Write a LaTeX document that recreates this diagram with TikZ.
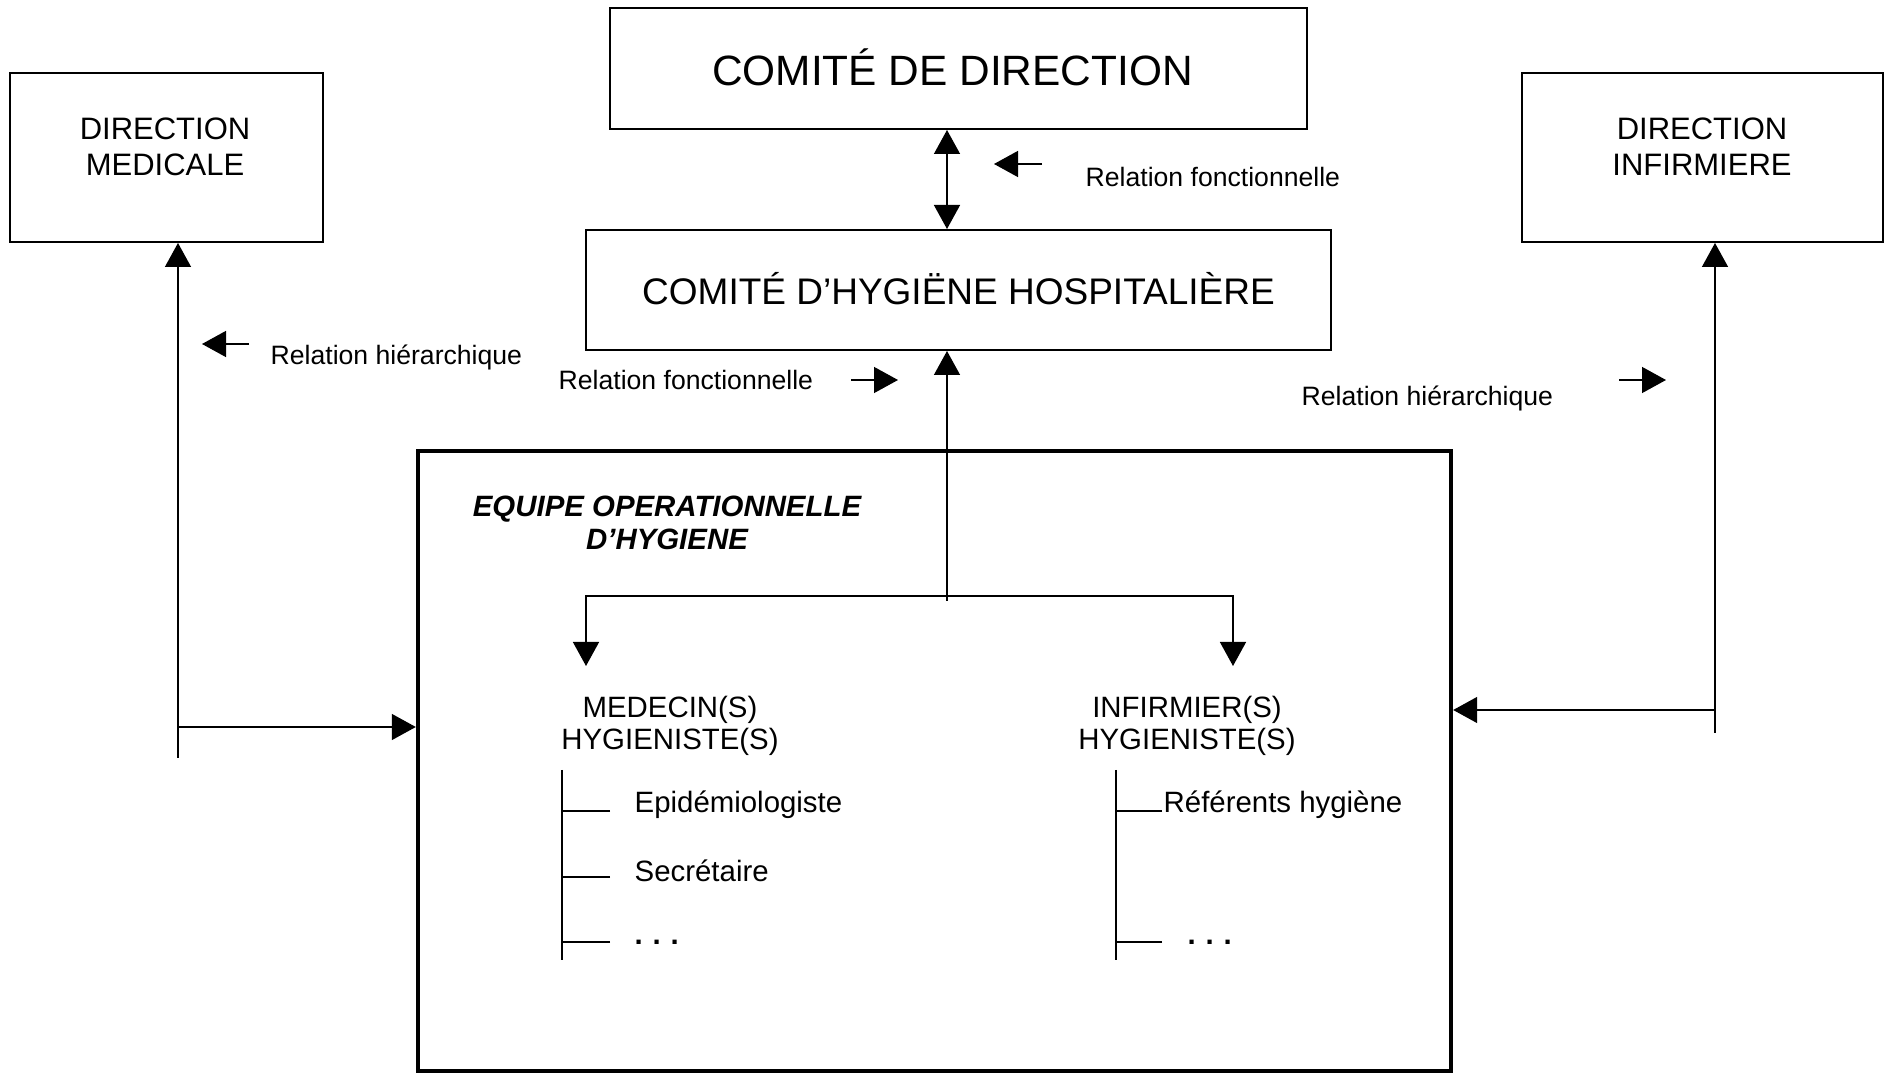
\documentclass[tikz,border=0pt]{standalone}
\usepackage{fontspec}
\setmainfont{Liberation Sans}
\usetikzlibrary{positioning,fit,arrows.meta}
\tikzset{
  box/.style={draw, line width=1pt, rectangle, inner sep=0pt},
  rel/.style={font=\fontsize{13.3}{16}\selectfont, inner sep=0pt, anchor=west},
  member/.style={font=\fontsize{14.7}{16.3}\selectfont, align=center, inner sep=0pt},
  tree/.style={line width=0.7pt}
}

\begin{document}
\begin{tikzpicture}[x=0.5pt, y=-0.5pt, line width=0.7pt,
    >={Triangle[length=12pt,width=13pt]}]
  \useasboundingbox (0,0) rectangle (1887,1074);

  % boxes
  \node [box, minimum width=348.5pt, minimum height=60.5pt] (direction) at (958.5,68.5)
    {\hspace*{-6pt}\raisebox{1pt}{\fontsize{21.2}{24}\selectfont COMITÉ DE DIRECTION}};
  \node [box, minimum width=372.5pt, minimum height=60pt] (hygiene) at (958.5,290)
    {\raisebox{2pt}{\fontsize{18.5}{21}\selectfont COMITÉ D’HYGIËNE HOSPITALIÈRE}};
  \node [box, minimum width=156.5pt, minimum height=84.5pt] (dirmed) at (166.5,157.5) {};
  \node [font=\fontsize{15.5}{18}\selectfont, align=center] at (165,147) {DIRECTION\\MEDICALE};
  \node [box, minimum width=180.5pt, minimum height=84.5pt] (dirinf) at (1702.5,157.5) {};
  \node [font=\fontsize{15.5}{18}\selectfont, align=center] at (1702,147) {DIRECTION\\INFIRMIERE};
  \node [box, line width=2.2pt, minimum width=516.5pt, minimum height=310pt] (equipe) at (934.5,761) {};

  % legend
  \node [rel] (relfonc1) at (1085,177) {Relation fonctionnelle};
  \node [rel] (relhier1) at (270,357) {Relation hiérarchique};
  \node [rel] (relfonc2) at (558,380) {Relation fonctionnelle};
  \node [rel] (relhier2) at (1301,398) {Relation hiérarchique};
  \coordinate (legA) at (1042,164);
  \coordinate (legB) at (249,344);
  \coordinate (legC) at (851,380);
  \coordinate (legD) at (1619,380);
  \draw [->] (legA) -- (994,164);
  \draw [->] (legB) -- (202,344);
  \draw [->] (legC) -- (898,380);
  \draw [->] (legD) -- (1666,380);

  % links
  \coordinate (spine) at (947,601);
  \coordinate (fork) at (947,596);
  \coordinate (tipmed) at (586,666);
  \coordinate (tipinf) at (1233,666);
  \draw [<->] (direction.south -| spine) -- (hygiene.north -| spine);
  \draw [->] (spine) -- (hygiene.south -| spine);
  \draw [->] (fork) -| (tipmed);
  \draw [->] (fork) -| (tipinf);

  \coordinate (hierL) at (178,758);
  \coordinate (jointL) at (178,727);
  \draw [->] (hierL) -- (hierL |- dirmed.south);
  \draw [->] (jointL) -- (jointL -| equipe.west);
  \coordinate (hierR) at (1715,733);
  \coordinate (jointR) at (1715,710);
  \draw [->] (hierR) -- (hierR |- dirinf.south);
  \draw [->] (jointR) -- (jointR -| equipe.east);

  % team
  \node [member, font=\fontsize{14.7}{16.8}\selectfont\bfseries\itshape] (eohtitle) at (667,523)
    {EQUIPE OPERATIONNELLE\\D’HYGIENE};
  \node [member] (medecin) at (670,726) {MEDECIN(S)\\HYGIENISTE(S)};
  \node [member] (infirmier) at (1187,726) {INFIRMIER(S)\\HYGIENISTE(S)};

  \coordinate (treemed) at (562,770);
  \coordinate (treeinf) at (1116,770);
  \draw [tree] (treemed) -- ++(0,190);
  \draw [tree] (treeinf) -- ++(0,190);
  \coordinate (tickepi) at (610,811);
  \coordinate (ticksec) at (610,877);
  \coordinate (tickmed) at (610,942);
  \coordinate (tickref) at (1162,811);
  \coordinate (tickinf) at (1162,942);
  \foreach \t in {tickepi,ticksec,tickmed}
    \draw [tree] (\t) -- (\t -| treemed);
  \foreach \t in {tickref,tickinf}
    \draw [tree] (\t) -- (\t -| treeinf);
  \node [member, anchor=west, yshift=3pt] (epi) at ([xshift=12pt]tickepi) {Epidémiologiste};
  \node [member, anchor=west, yshift=3pt] (sec) at ([xshift=12pt]ticksec) {Secrétaire};
  \node [member, anchor=west] (moremed) at ([xshift=12pt]tickmed) {\textbf{.\,\,.\,\,.}};
  \node [member, anchor=west, yshift=3pt] (ref) at ([xshift=0.5pt]tickref) {Référents hygiène};
  \node [member, anchor=west] (moreinf) at ([xshift=12.5pt]tickinf) {\textbf{.\,\,.\,\,.}};
\end{tikzpicture}
\end{document}
